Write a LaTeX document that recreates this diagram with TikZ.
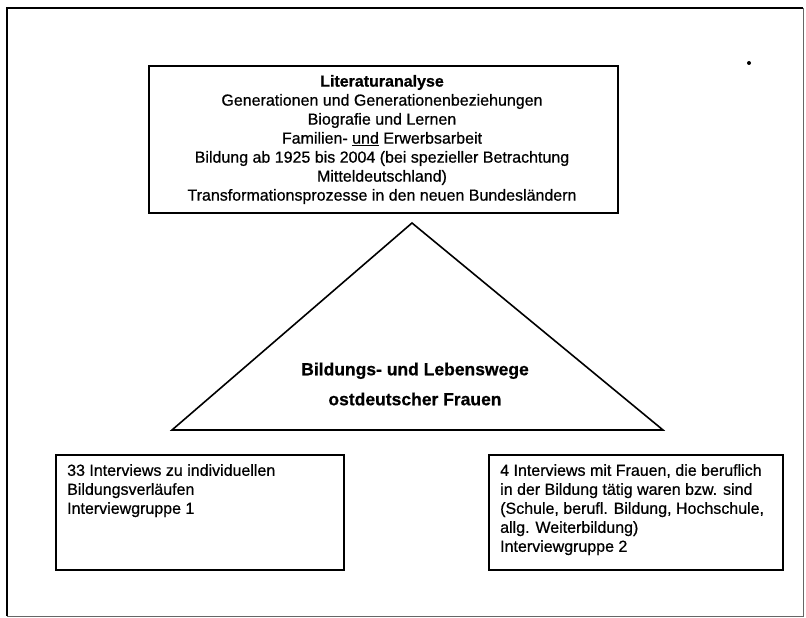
\documentclass[tikz,border=0pt]{standalone}
\usepackage{fontspec}
\setmainfont{Liberation Sans}[FakeBold=0.7]
\newfontfamily\heavyfont{Liberation Sans}[FakeBold=0.7]
\begin{document}
\begin{tikzpicture}[x=1pt,y=-1pt,
  box/.style={draw=black, line width=2pt, inner sep=0pt, anchor=north west},
  body/.style={inner sep=0pt, font=\heavyfont\fontsize{16}{19}\selectfont\addfontfeatures{FakeBold=0.7}},
  centre/.style={body, align=center},
  lefttext/.style={body, align=left, anchor=north west},
  apex/.style={font=\fontsize{17.5}{30}\selectfont\bfseries, align=center, inner sep=0pt}]
  \useasboundingbox (0,0) rectangle (806,618);
  \fill[white] (0,0) rectangle (806,618);

  % outer frame
  \draw[line width=1.6pt] (7,616) -- (7,8) -- (803,8);
  \draw[line width=0.8pt, black!60] (803,8) -- (803,616) -- (7,616);

  % literature box
  \node[box, minimum width=469pt, minimum height=147pt] (lit) at (148,65) {};
  \node[centre] (littext) at (382,139.5) {\textbf{Literaturanalyse}\\
    Generationen und Generationenbeziehungen\\
    Biografie und Lernen\\
    Familien- \underline{und} Erwerbsarbeit\\
    Bildung ab 1925 bis 2004 (bei spezieller Betrachtung\\
    Mitteldeutschland)\\
    Transformationsprozesse in den neuen Bundesländern};

  % triangle
  \coordinate (top) at (412,223);
  \coordinate (bl) at (172,430);
  \coordinate (br) at (663,430);
  \draw[line width=1.6pt, line join=miter] (top) -- (br) -- (bl) -- cycle;
  \node[apex] (tritext) at (415,384) {Bildungs- und Lebenswege\\ostdeutscher Frauen};

  % interview groups
  \node[box, minimum width=288pt, minimum height=115pt] (g1) at (55,454) {};
  \node[lefttext] (g1text) at (67,464) {33 Interviews zu individuellen\\
    Bildungsverläufen\\
    Interviewgruppe 1};
  \node[box, minimum width=294pt, minimum height=115pt] (g2) at (488,454) {};
  \node[lefttext] (g2text) at (500,464) {4 Interviews mit Frauen, die beruflich\\
    in der Bildung tätig waren bzw. sind\\
    (Schule, berufl. Bildung, Hochschule,\\
    allg. Weiterbildung)\\
    Interviewgruppe 2};

  % speck
  \fill (749,63) circle (2pt);
\end{tikzpicture}
\end{document}
